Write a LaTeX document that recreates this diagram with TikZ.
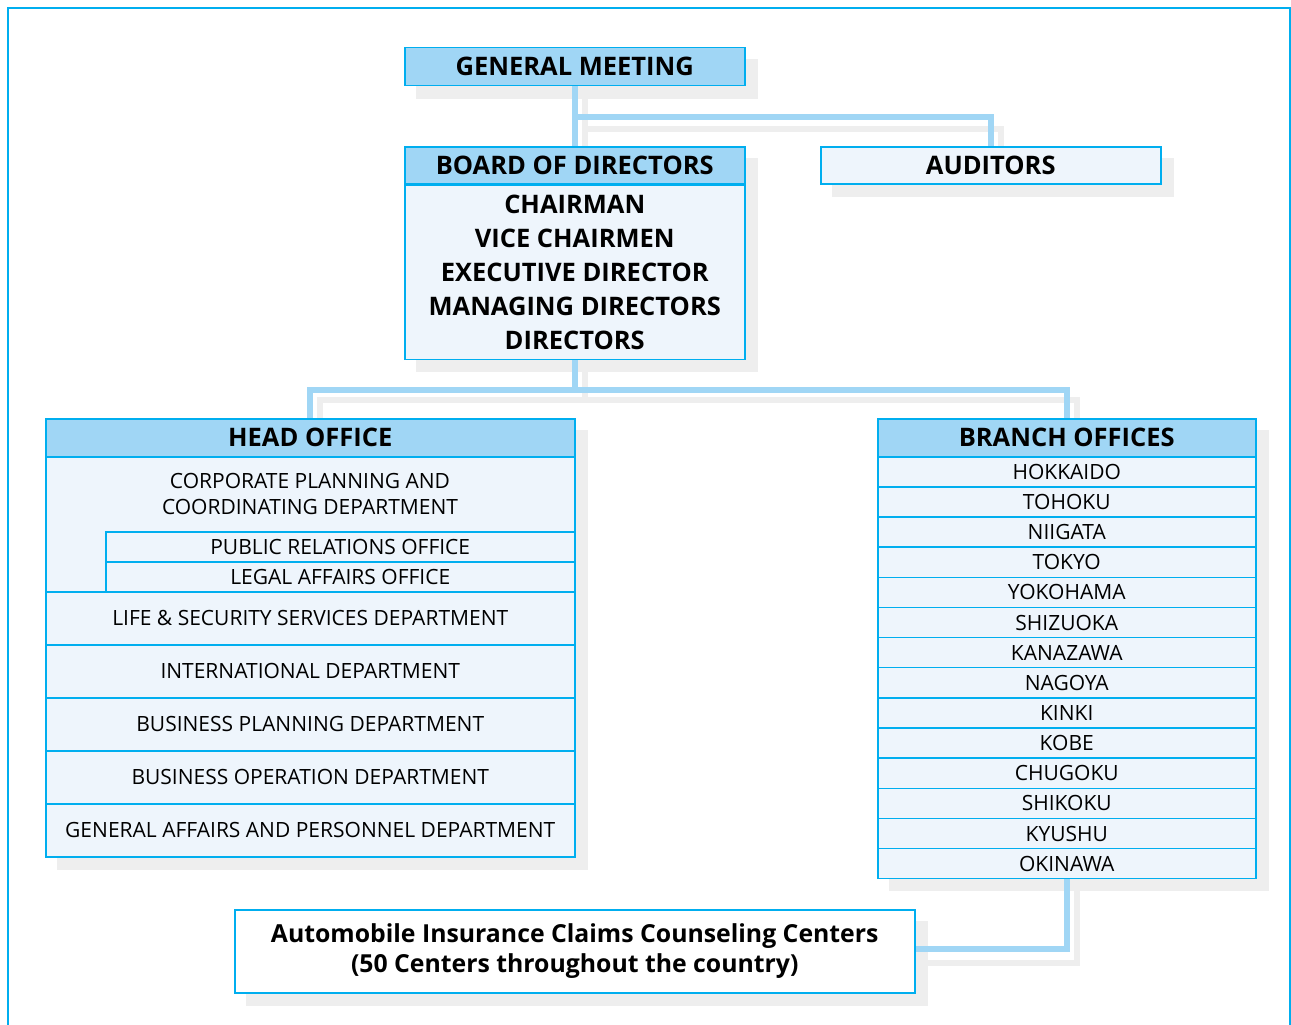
\documentclass[tikz,border=0pt]{standalone}
\usepackage{fontspec}
\setmainfont{Open Sans}
\usetikzlibrary{positioning, backgrounds}
\definecolor{framecyan}{RGB}{0,174,239}
\definecolor{headblue}{RGB}{160,214,245}
\definecolor{paleblue}{RGB}{238,245,252}
\definecolor{shadowgray}{RGB}{238,238,238}

\begin{document}
\begin{tikzpicture}[x=1pt, y=-1pt,
    headbox/.style={rectangle, draw=framecyan, line width=1.5pt, fill=headblue, inner sep=0pt,
        font=\fontsize{25.5}{29}\selectfont\bfseries},
    cellbox/.style={rectangle, draw=framecyan, line width=1.5pt, fill=paleblue, inner sep=0pt,
        font=\fontsize{21}{26}\selectfont},
    bodybox/.style={cellbox, font=\fontsize{25.5}{34}\selectfont\bfseries, align=center},
    celltext/.style={inner sep=0pt, align=center, font=\fontsize{21}{26}\selectfont},
    link/.style={draw=headblue, line width=6pt},
    linkshadow/.style={draw=shadowgray, line width=6pt}
]
    \useasboundingbox (0,0) rectangle (1291,1025);
    \draw[framecyan, line width=2.5pt] (8,1026) -- (8,8) -- (1290,8) -- (1290,1026);

    % top of the chart
    \node[headbox, minimum width=340pt, minimum height=38pt, anchor=north west] (gm) at (404,47) {GENERAL MEETING};
    \node[headbox, minimum width=340pt, minimum height=37pt, anchor=north west] (bod) at (404,146) {BOARD OF DIRECTORS};
    \node[bodybox, minimum width=340pt, minimum height=174pt, below=0pt of bod] (bodbody)
        {CHAIRMAN\\VICE CHAIRMEN\\EXECUTIVE DIRECTOR\\MANAGING DIRECTORS\\DIRECTORS};
    \node[cellbox, font=\fontsize{25.5}{29}\selectfont\bfseries, minimum width=340pt, minimum height=37pt,
        anchor=north west] (aud) at (820,146) {AUDITORS};

    % head office
    \node[headbox, minimum width=529pt, minimum height=38pt, anchor=north west] (ho) at (45,418) {HEAD OFFICE};
    \node[cellbox, minimum width=529pt, minimum height=135pt, anchor=north west] (corp) at (45,456) {};
    \node[celltext] (corptxt) at (310,494) {CORPORATE PLANNING AND\\COORDINATING DEPARTMENT};
    \node[cellbox, minimum width=469pt, minimum height=30pt, anchor=north west] (pro) at (105,531) {PUBLIC RELATIONS OFFICE};
    \node[cellbox, minimum width=469pt, minimum height=30pt, anchor=north west] (lao) at (105,561) {LEGAL AFFAIRS OFFICE};
    \foreach \dept [count=\i] in {LIFE \& SECURITY SERVICES DEPARTMENT, INTERNATIONAL DEPARTMENT,
        BUSINESS PLANNING DEPARTMENT, BUSINESS OPERATION DEPARTMENT,
        GENERAL AFFAIRS AND PERSONNEL DEPARTMENT}
        \node[cellbox, minimum width=529pt, minimum height=53pt, anchor=north west] (dept\i)
            at (45,{591+53*(\i-1)}) {\dept};

    % branch offices
    \node[headbox, minimum width=378pt, minimum height=38pt, anchor=north west] (bo) at (877,418) {BRANCH OFFICES};
    \foreach \branch [count=\i] in {HOKKAIDO, TOHOKU, NIIGATA, TOKYO, YOKOHAMA, SHIZUOKA, KANAZAWA,
        NAGOYA, KINKI, KOBE, CHUGOKU, SHIKOKU, KYUSHU, OKINAWA}
        \node[cellbox, minimum width=378pt, minimum height=30.14pt, anchor=north west] (br\i)
            at (877,{456+30.14*(\i-1)}) {\branch};

    % counseling centers
    \node[cellbox, fill=white, font=\fontsize{24.8}{30}\selectfont\bfseries, align=center,
        minimum width=680pt, minimum height=83pt, anchor=north west] (acc) at (234,909)
        {Automobile Insurance Claims Counseling Centers\\(50 Centers throughout the country)};

    \begin{scope}[on background layer]
        % shadows
        \fill[shadowgray] ([shift={(12,12)}]gm.north west) rectangle ([shift={(12,12)}]gm.south east);
        \fill[shadowgray] ([shift={(12,12)}]bod.north west) rectangle ([shift={(12,12)}]bodbody.south east);
        \fill[shadowgray] ([shift={(12,12)}]aud.north west) rectangle ([shift={(12,12)}]aud.south east);
        \fill[shadowgray] ([shift={(12,12)}]ho.north west) rectangle ([shift={(12,12)}]dept5.south east);
        \fill[shadowgray] ([shift={(12,12)}]bo.north west) rectangle ([shift={(12,12)}]br14.south east);
        \fill[shadowgray] ([shift={(12,12)}]acc.north west) rectangle ([shift={(12,12)}]acc.south east);
        \draw[linkshadow] ([shift={(10,0)}]gm.south) -- ([shift={(10,0)}]bod.north);
        \draw[linkshadow] ([shift={(10,42)}]gm.south) -| ([shift={(10,0)}]aud.north);
        \draw[linkshadow] ([shift={(10,0)}]bodbody.south) -- ([shift={(10,40)}]bodbody.south);
        \draw[linkshadow] ([shift={(10,0)}]ho.north) |- ([shift={(10,40)}]bodbody.south) -| ([shift={(10,0)}]bo.north);
        \draw[linkshadow] ([shift={(10,0)}]br14.south) |- ([shift={(0,12)}]acc.east);
        % connectors
        \draw[link] (gm.south) -- (bod.north);
        \draw[link] (gm.south) ++(0,30) -| (aud.north);
        \draw[link] (bodbody.south) -- ++(0,30) coordinate (split);
        \draw[link] (ho.north) |- (split) -| (bo.north);
        \draw[link] (br14.south) |- ([yshift=2pt]acc.east);
    \end{scope}
\end{tikzpicture}
\end{document}
